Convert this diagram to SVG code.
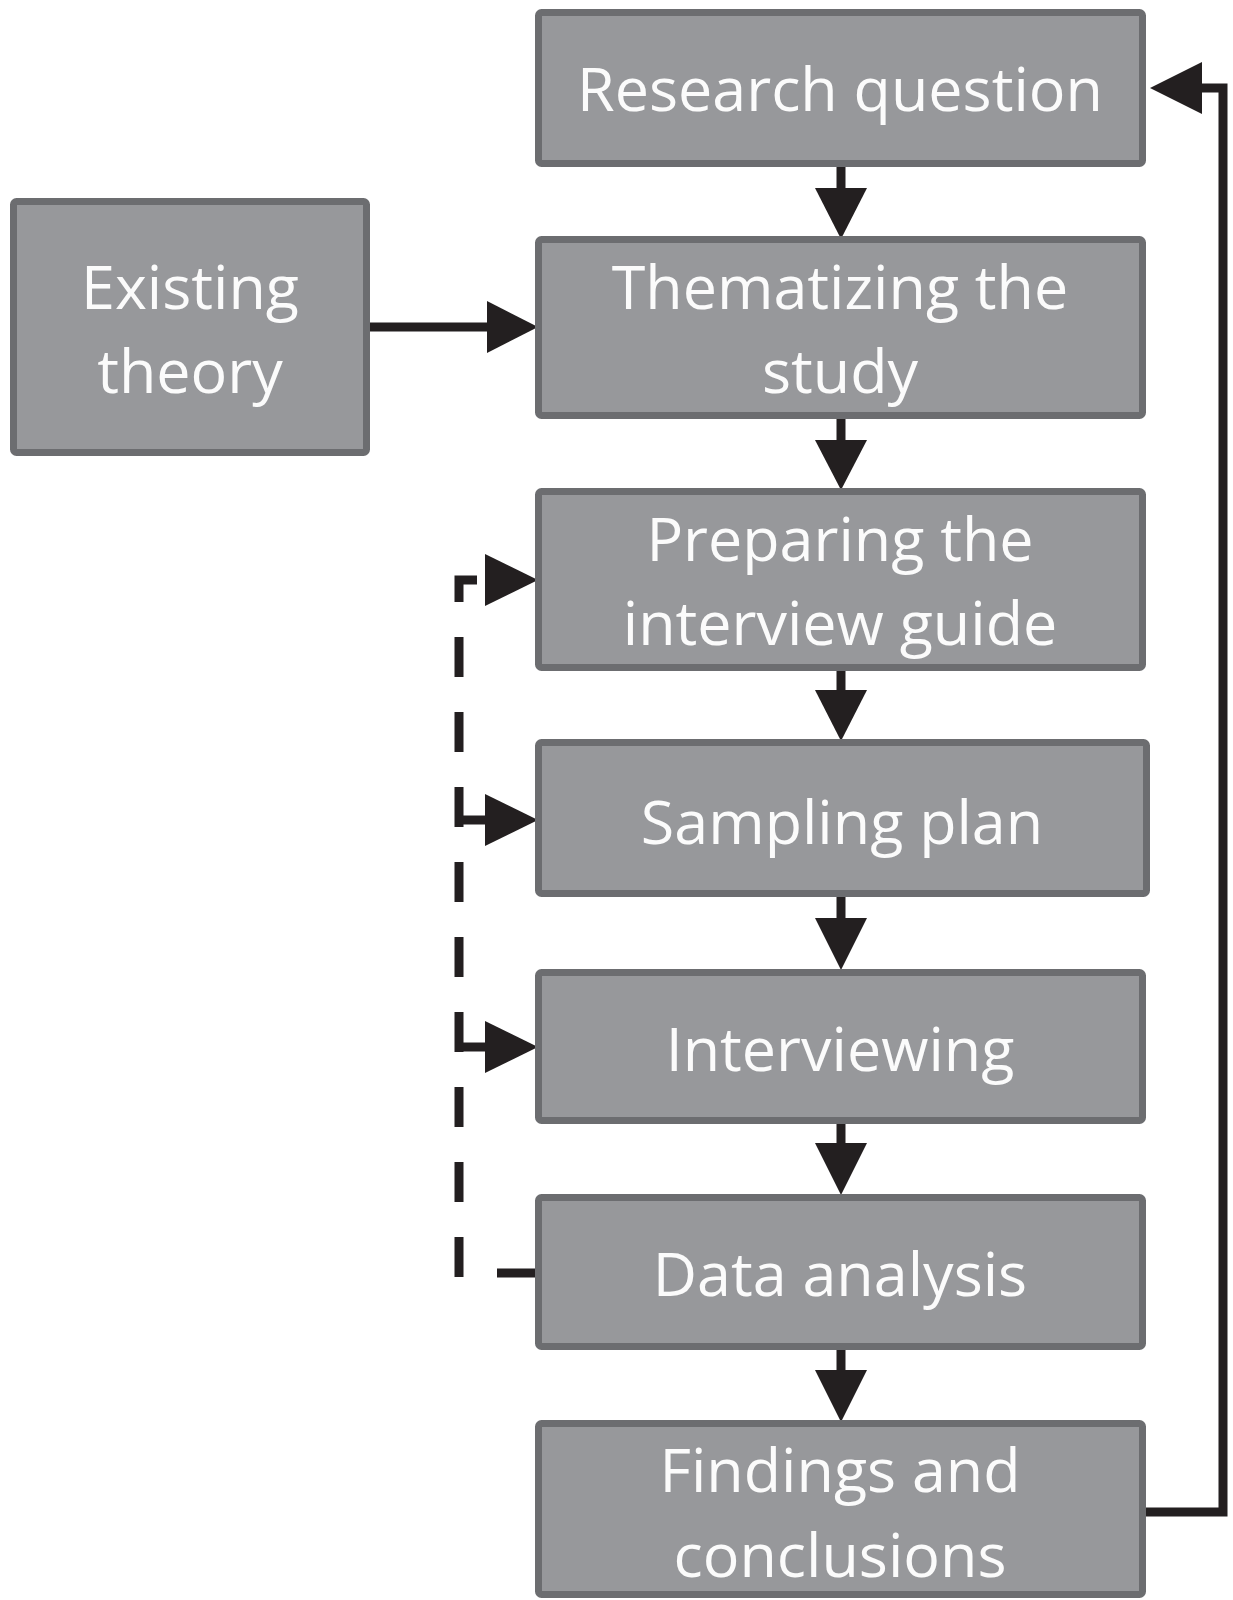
<svg xmlns="http://www.w3.org/2000/svg" width="1233" height="1600" viewBox="0 0 1233 1600">
<style>
.box{fill:#97989b;stroke:#6c6d70;stroke-width:7}
.lbl{font-family:"Open Sans","Noto Sans",sans-serif;font-size:61px;fill:#fbfbfb;text-anchor:middle}
.ln{stroke:#231f20;stroke-width:9;fill:none;stroke-linecap:butt;stroke-linejoin:miter}
.dash{stroke:#231f20;stroke-width:9;fill:none;stroke-dasharray:40 35;stroke-linecap:butt;stroke-linejoin:miter}
.ah{fill:#231f20}
</style>
<rect width="1233" height="1600" fill="#ffffff"/>
<g id="connectors">
  <line class="ln" x1="841" y1="167" x2="841" y2="190"/>
  <polygon class="ah" points="815,188 867,188 841,239"/>
  <line class="ln" x1="841" y1="419" x2="841" y2="442"/>
  <polygon class="ah" points="815,440 867,440 841,490"/>
  <line class="ln" x1="841" y1="671" x2="841" y2="692"/>
  <polygon class="ah" points="815,690 867,690 841,741"/>
  <line class="ln" x1="841" y1="897" x2="841" y2="920"/>
  <polygon class="ah" points="815,918 867,918 841,970"/>
  <line class="ln" x1="841" y1="1124" x2="841" y2="1145"/>
  <polygon class="ah" points="815,1143 867,1143 841,1195"/>
  <line class="ln" x1="841" y1="1350" x2="841" y2="1372"/>
  <polygon class="ah" points="815,1370 867,1370 841,1422"/>
  <line class="ln" x1="370" y1="327" x2="489" y2="327"/>
  <polygon class="ah" points="487,301 487,353 538,327"/>
  <path class="ln" d="M1146,1512 H1223 V88 H1200"/>
  <polygon class="ah" points="1202,62 1202,114 1150,88"/>
  <line class="ln" x1="497" y1="1273" x2="535" y2="1273"/>
  <path class="dash" d="M459,1277 V580 H480"/>
  <polygon class="ah" points="485,554 485,606 538,580"/>
  <line class="ln" x1="459" y1="820" x2="487" y2="820"/>
  <polygon class="ah" points="485,794 485,846 538,820"/>
  <line class="ln" x1="459" y1="1047" x2="487" y2="1047"/>
  <polygon class="ah" points="485,1021 485,1073 538,1047"/>
</g>
<g id="research-question">
  <rect class="box" x="538.5" y="12.5" width="604" height="151" rx="3"/>
  <text class="lbl" x="840" y="111">Research question</text>
</g>
<g id="existing-theory">
  <rect class="box" x="13.5" y="201.5" width="353" height="251" rx="3"/>
  <text class="lbl" x="190" y="309">Existing</text>
  <text class="lbl" x="190" y="393">theory</text>
</g>
<g id="thematizing">
  <rect class="box" x="538.5" y="239.5" width="604" height="176" rx="3"/>
  <text class="lbl" x="840" y="309">Thematizing the</text>
  <text class="lbl" x="840" y="393">study</text>
</g>
<g id="preparing">
  <rect class="box" x="538.5" y="491.5" width="604" height="176" rx="3"/>
  <text class="lbl" x="840" y="561">Preparing the</text>
  <text class="lbl" x="840" y="645">interview guide</text>
</g>
<g id="sampling">
  <rect class="box" x="538.5" y="742.5" width="608" height="151" rx="3"/>
  <text class="lbl" x="842" y="844">Sampling plan</text>
</g>
<g id="interviewing">
  <rect class="box" x="538.5" y="972.5" width="604" height="148" rx="3"/>
  <text class="lbl" x="840" y="1071">Interviewing</text>
</g>
<g id="data-analysis">
  <rect class="box" x="538.5" y="1197.5" width="604" height="149" rx="3"/>
  <text class="lbl" x="840" y="1296">Data analysis</text>
</g>
<g id="findings">
  <rect class="box" x="538.5" y="1423.5" width="604" height="171" rx="3"/>
  <text class="lbl" x="840" y="1492">Findings and</text>
  <text class="lbl" x="840" y="1577">conclusions</text>
</g>
</svg>
